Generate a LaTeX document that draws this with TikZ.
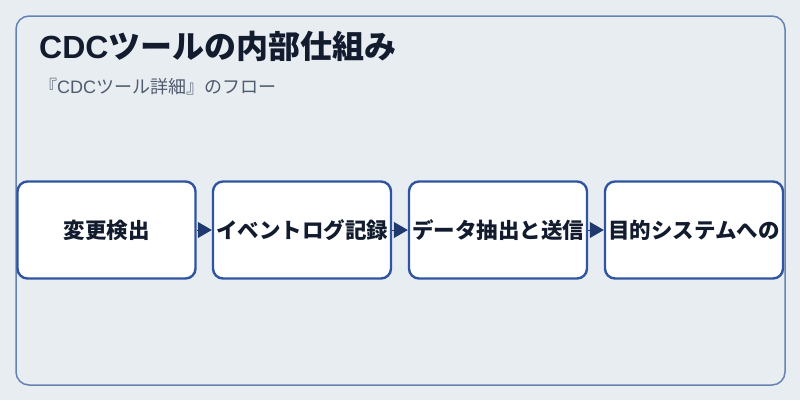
\documentclass[tikz,border=0pt]{standalone}
\usepackage{fontspec}
\setmainfont{Noto Sans CJK JP}
\newfontfamily\lat{Liberation Sans}
\usetikzlibrary{arrows.meta}
\definecolor{bgc}{HTML}{E8EDF2}
\definecolor{framec}{HTML}{6682B4}
\definecolor{boxc}{HTML}{2F55A0}
\definecolor{titlec}{HTML}{121C2E}
\definecolor{subc}{HTML}{4F5B6E}
\definecolor{arrc}{HTML}{1E3A70}
\tikzset{
  stepbox/.style={draw=boxc, line width=2.4pt, fill=white, rounded corners=10pt,
    minimum width=178pt, minimum height=97pt, inner sep=0pt, text=titlec,
    font=\fontsize{21.5}{26}\selectfont\bfseries},
  flow/.style={draw=arrc, line width=1pt, -{Triangle[length=14pt,width=16pt]}, shorten <=0pt, shorten >=0pt}
}
\begin{document}
\begin{tikzpicture}[x=1pt,y=-1pt]
\fill[bgc] (0,0) rectangle (800,400);
\useasboundingbox (0,0) rectangle (800,400);
\draw[framec, line width=1.5pt, rounded corners=13pt] (16,16) rectangle (785,385);
\node[anchor=base west, text=titlec, font=\fontsize{32}{36}\selectfont\bfseries, inner sep=0pt] (title) at (39,58) {{\lat CDC}ツールの内部仕組み};
\node[anchor=base west, text=subc, font=\fontsize{18}{22}\selectfont, inner sep=0pt] (sub) at (39,93) {『{\lat CDC}ツール詳細』のフロー};
\node[stepbox] (a) at (106.5,230) {変更検出};
\node[stepbox] (b) at (302,230) {イベントログ記録};
\node[stepbox] (c) at (498,230) {データ抽出と送信};
\node[stepbox] (d) at (694,230) {目的システムへの};
\draw[flow] (a.east) -- (b.west);
\draw[flow] (b.east) -- (c.west);
\draw[flow] (c.east) -- (d.west);
\end{tikzpicture}
\end{document}
